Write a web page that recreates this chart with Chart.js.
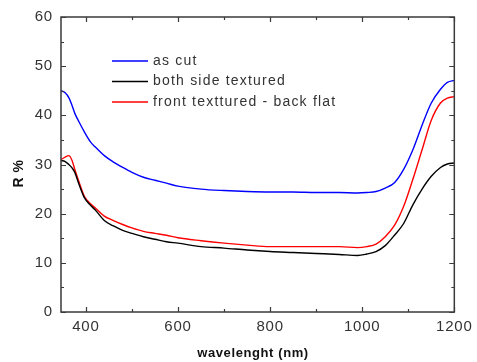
<!DOCTYPE html>
<html>
<head>
<meta charset="utf-8">
<script src="https://cdn.jsdelivr.net/npm/chart.js@4"></script>
<style>
  html, body { margin: 0; padding: 0; background: #fff; }
  #chart { display: block; }
</style>
</head>
<body>
<canvas id="chart" width="477" height="362"></canvas>
<script>
// ================== DATOS ==================

const wavelength = [346, 355, 363, 370, 376, 385, 397, 410, 420, 440, 460, 480, 500, 525, 550, 575, 600, 650, 700, 750, 800, 850, 900, 950, 990, 1010, 1030, 1050, 1070, 1090, 1110, 1130, 1150, 1170, 1185, 1200];

const asCut = [45.0, 44.6, 43.6, 42.0, 40.4, 38.7, 36.6, 34.6, 33.6, 31.8, 30.5, 29.4, 28.4, 27.4, 26.8, 26.2, 25.6, 25.0, 24.7, 24.5, 24.4, 24.4, 24.3, 24.3, 24.2, 24.3, 24.5, 25.2, 26.3, 29.0, 33.0, 38.0, 42.5, 45.3, 46.7, 47.1];

const bothSide = [30.8, 30.6, 30.0, 29.3, 28.4, 26.0, 23.2, 21.7, 20.8, 18.6, 17.5, 16.6, 16.0, 15.3, 14.8, 14.3, 14.0, 13.3, 13.0, 12.6, 12.3, 12.1, 11.9, 11.7, 11.5, 11.8, 12.3, 13.5, 15.6, 18.0, 21.8, 25.0, 27.6, 29.4, 30.1, 30.3];

const frontTex = [31.0, 31.5, 31.8, 30.8, 29.0, 26.5, 23.5, 22.0, 21.2, 19.5, 18.6, 17.8, 17.1, 16.4, 16.0, 15.6, 15.1, 14.5, 14.0, 13.6, 13.3, 13.3, 13.3, 13.3, 13.1, 13.3, 13.8, 15.3, 17.6, 21.5, 27.0, 33.0, 39.0, 42.5, 43.5, 43.8];

const seriesLabels = ['as cut', 'both side textured', 'front texttured - back flat'];

const xTickValues = [400, 600, 800, 1000, 1200];
const xMinorTicks = [500, 700, 900, 1100];
const yTickValues = [0, 10, 20, 30, 40, 50, 60];
const yMinorTicks = [5, 15, 25, 35, 45, 55];

const toPoints = arr => arr.map((v, i) => ({ x: wavelength[i], y: v }));

// ================== PLUGIN MARCO / LEYENDA ==================

const framePlugin = {
    id: 'frame',
    beforeDraw(chart) {
        chart.ctx.letterSpacing = '0.8px';
    },
    afterDraw(chart) {
        const { ctx, chartArea: a, scales } = chart;
        const xs = scales.x, ys = scales.y;
        ctx.save();

        // marco
        ctx.strokeStyle = '#3a3a3a';
        ctx.lineWidth = 1.5;
        ctx.strokeRect(a.left, a.top, a.right - a.left, a.bottom - a.top);

        // ticks hacia adentro
        ctx.lineWidth = 1.2;
        ctx.beginPath();
        const xTick = (v, len) => {
            const px = Math.round(xs.getPixelForValue(v)) + 0.5;
            ctx.moveTo(px, a.bottom); ctx.lineTo(px, a.bottom - len);
            ctx.moveTo(px, a.top); ctx.lineTo(px, a.top + len);
        };
        const yTick = (v, len) => {
            const py = Math.round(ys.getPixelForValue(v)) + 0.5;
            ctx.moveTo(a.left, py); ctx.lineTo(a.left + len, py);
            ctx.moveTo(a.right, py); ctx.lineTo(a.right - len, py);
        };
        xTickValues.forEach(v => xTick(v, 5));
        xMinorTicks.forEach(v => xTick(v, 3));
        yTickValues.forEach(v => yTick(v, 5));
        yMinorTicks.forEach(v => yTick(v, 3));
        ctx.stroke();

        // leyenda
        ctx.letterSpacing = '1.2px';
        ctx.font = '14px "Liberation Sans", Arial, sans-serif';
        ctx.textBaseline = 'middle';
        ctx.textAlign = 'left';
        chart.data.datasets.forEach((ds, i) => {
            const y = 61 + i * 20.5;
            ctx.strokeStyle = ds.borderColor;
            ctx.lineWidth = 1.3;
            ctx.beginPath();
            ctx.moveTo(112, y); ctx.lineTo(148, y);
            ctx.stroke();
            ctx.fillStyle = '#333';
            ctx.fillText(ds.label, 153, y);
        });

        // títulos de ejes
        ctx.fillStyle = '#111';
        ctx.letterSpacing = '0.6px';
        ctx.font = 'bold 13px "Liberation Sans", Arial, sans-serif';
        ctx.textAlign = 'center';
        ctx.fillText('wavelenght (nm)', 253, 353);
        ctx.translate(19.5, 173.5);
        ctx.rotate(-Math.PI / 2);
        ctx.font = 'bold 14px "Liberation Sans", Arial, sans-serif';
        ctx.fillText('R %', 0, 0);

        ctx.restore();
    }
};

// ================== GRÁFICA ==================

const tickFont = { family: '"Liberation Sans", Arial, sans-serif', size: 15 };

const ctx = document.getElementById('chart').getContext('2d');
new Chart(ctx, {
    type: 'line',
    data: {
        datasets: [
            { label: seriesLabels[0], data: toPoints(asCut), borderColor: '#0000ff' },
            { label: seriesLabels[1], data: toPoints(bothSide), borderColor: '#000000' },
            { label: seriesLabels[2], data: toPoints(frontTex), borderColor: '#ff0000' }
        ]
    },
    options: {
        responsive: false,
        animation: false,
        layout: { padding: { top: 17, right: 18, left: 0, bottom: 0 } },
        elements: {
            point: { radius: 0 },
            line: { borderWidth: 1.4, cubicInterpolationMode: 'monotone' }
        },
        plugins: {
            legend: { display: false },
            tooltip: { enabled: false }
        },
        scales: {
            x: {
                type: 'linear',
                min: 346,
                max: 1200,
                afterBuildTicks: s => { s.ticks = xTickValues.map(v => ({ value: v })); },
                afterFit: s => { s.height = 50; },
                grid: { display: false, drawTicks: false },
                border: { display: false },
                ticks: { padding: 6, color: '#333', font: tickFont, maxRotation: 0, callback: v => String(v) }
            },
            y: {
                min: 0,
                max: 60,
                afterBuildTicks: s => { s.ticks = yTickValues.map(v => ({ value: v })); },
                afterFit: s => { s.width = 61; },
                grid: { display: false, drawTicks: false },
                border: { display: false },
                ticks: { padding: 8, color: '#333', font: tickFont, callback: v => String(v) }
            }
        }
    },
    plugins: [framePlugin]
});
</script>
</body>
</html>
